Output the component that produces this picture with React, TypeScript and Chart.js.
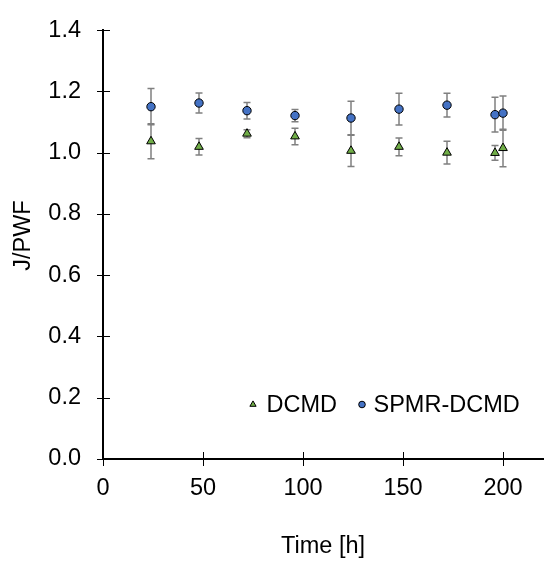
import React, { useEffect, useRef } from 'react';
import { Chart, registerables } from 'chart.js';

Chart.register(...registerables);

const times = [24, 48, 72, 96, 124, 148, 172, 196, 200];
const dcmd = [1.037, 1.019, 1.062, 1.053, 1.006, 1.019, 1.0, 0.999, 1.015];
const dcmdErr = [0.057, 0.027, 0.013, 0.027, 0.051, 0.029, 0.037, 0.024, 0.061];
const spmr = [1.15, 1.162, 1.137, 1.121, 1.113, 1.142, 1.155, 1.124, 1.129];
const spmrErr = [0.059, 0.033, 0.027, 0.02, 0.055, 0.052, 0.039, 0.057, 0.056];
const seriesNames = ['DCMD', 'SPMR-DCMD'];
const xTitle = 'Time [h]';
const yTitle = 'J/PWF';

const FONT = "'Liberation Sans', Arial, sans-serif";
const FS = 23.5;

const errorBarPlugin = {
  id: 'errorBars',
  beforeDatasetsDraw(chart: any) {
    const ctx = chart.ctx;
    const xs = chart.scales.x;
    const ys = chart.scales.y;
    ctx.save();
    ctx.strokeStyle = '#808080';
    ctx.lineWidth = 1.5;
    chart.data.datasets.forEach((ds: any) => {
      ds.data.forEach((p: any, j: number) => {
        const e = ds.errors[j];
        const x = xs.getPixelForValue(p.x);
        const yt = ys.getPixelForValue(p.y + e);
        const yb = ys.getPixelForValue(p.y - e);
        const cap = 3.5;
        ctx.beginPath();
        ctx.moveTo(x, yt);
        ctx.lineTo(x, yb);
        ctx.moveTo(x - cap, yt);
        ctx.lineTo(x + cap, yt);
        ctx.moveTo(x - cap, yb);
        ctx.lineTo(x + cap, yb);
        ctx.stroke();
      });
    });
    ctx.restore();
  },
};

const tickPlugin = {
  id: 'crossTicks',
  afterDraw(chart: any) {
    const ctx = chart.ctx;
    const { left, top, bottom } = chart.chartArea;
    const xs = chart.scales.x;
    const ys = chart.scales.y;
    ctx.save();
    ctx.strokeStyle = '#000';
    ctx.lineWidth = 1;
    xs.ticks.forEach((t: any) => {
      const x = Math.round(xs.getPixelForValue(t.value)) + 0.5;
      ctx.beginPath();
      ctx.moveTo(x, bottom - 7);
      ctx.lineTo(x, bottom + 7);
      ctx.stroke();
    });
    ys.ticks.forEach((t: any) => {
      const y = Math.round(ys.getPixelForValue(t.value)) + 0.5;
      ctx.beginPath();
      ctx.moveTo(left - 6, y);
      ctx.lineTo(left + 7, y);
      ctx.stroke();
    });
    // y axis title
    ctx.font = `${FS}px ${FONT}`;
    ctx.fillStyle = '#000';
    ctx.textAlign = 'center';
    ctx.textBaseline = 'middle';
    ctx.translate(24, (top + bottom) / 2 - 9);
    ctx.rotate(-Math.PI / 2);
    ctx.fillText(yTitle, 0, 0);
    ctx.restore();
  },
};

const legendPlugin = {
  id: 'insideLegend',
  afterDraw(chart: any) {
    const ctx = chart.ctx;
    const { left, bottom } = chart.chartArea;
    const cy = bottom - 54.5;
    ctx.save();
    ctx.font = `${FS}px ${FONT}`;
    ctx.textBaseline = 'middle';
    ctx.textAlign = 'left';
    const tx = left + 150;
    const r = 3.6;
    ctx.beginPath();
    ctx.moveTo(tx, cy - r);
    ctx.lineTo(tx + r * 0.866, cy + r * 0.5);
    ctx.lineTo(tx - r * 0.866, cy + r * 0.5);
    ctx.closePath();
    ctx.fillStyle = '#70AD47';
    ctx.fill();
    ctx.strokeStyle = '#000';
    ctx.lineWidth = 1;
    ctx.stroke();
    ctx.fillStyle = '#000';
    ctx.fillText(seriesNames[0], tx + 13.5, cy + 1);
    const cx = left + 259;
    ctx.beginPath();
    ctx.arc(cx, cy, 3.3, 0, Math.PI * 2);
    ctx.fillStyle = '#4472C4';
    ctx.fill();
    ctx.stroke();
    ctx.fillStyle = '#000';
    ctx.fillText(seriesNames[1], cx + 11.5, cy + 1);
    ctx.restore();
  },
};

export default function App() {
  const ref = useRef<HTMLCanvasElement>(null);
  useEffect(() => {
    if (!ref.current) return;
    const chart = new Chart(ref.current, {
      type: 'scatter',
      data: {
        datasets: [
          {
            label: seriesNames[0],
            data: times.map((t, i) => ({ x: t, y: dcmd[i] })),
            errors: dcmdErr,
            pointStyle: 'triangle',
            pointRadius: 5,
            backgroundColor: '#70AD47',
            borderColor: '#000',
            borderWidth: 1,
          } as any,
          {
            label: seriesNames[1],
            data: times.map((t, i) => ({ x: t, y: spmr[i] })),
            errors: spmrErr,
            pointStyle: 'circle',
            pointRadius: 4.2,
            backgroundColor: '#4472C4',
            borderColor: '#000',
            borderWidth: 1,
          } as any,
        ],
      },
      options: {
        animation: false,
        responsive: false,
        layout: { padding: { top: 27, right: 0, left: 0, bottom: 0 } },
        plugins: { legend: { display: false }, tooltip: { enabled: false } },
        scales: {
          x: {
            type: 'linear',
            min: 0,
            max: 220,
            afterFit: (s: any) => {
              s.height = 102;
            },
            ticks: {
              stepSize: 50,
              includeBounds: false,
              color: '#000',
              font: { family: FONT, size: FS },
              padding: 9,
              maxRotation: 0,
            },
            grid: { display: true, drawOnChartArea: false, color: 'transparent', tickLength: 6 },
            border: { display: true, color: '#000', width: 2 },
            title: {
              display: true,
              text: xTitle,
              color: '#000',
              font: { family: FONT, size: FS },
              padding: { top: 0, bottom: 0 },
            },
          },
          y: {
            type: 'linear',
            min: 0,
            max: 1.4,
            afterFit: (s: any) => {
              s.width = 103;
            },
            ticks: {
              stepSize: 0.2,
              color: '#000',
              font: { family: FONT, size: FS },
              padding: 16,
              callback: (v: any) => Number(v).toFixed(1),
            },
            grid: { display: true, drawOnChartArea: false, color: 'transparent', tickLength: 6 },
            border: { display: true, color: '#000', width: 2 },
            title: { display: false },
          },
        },
      },
      plugins: [errorBarPlugin, tickPlugin, legendPlugin],
    } as any);
    return () => chart.destroy();
  }, []);
  return (
    <div style={{ position: 'absolute', left: 0, top: 0, width: 549, height: 561, background: '#fff' }}>
      <canvas ref={ref} width={549} height={561} style={{ display: 'block' }} />
    </div>
  );
}
